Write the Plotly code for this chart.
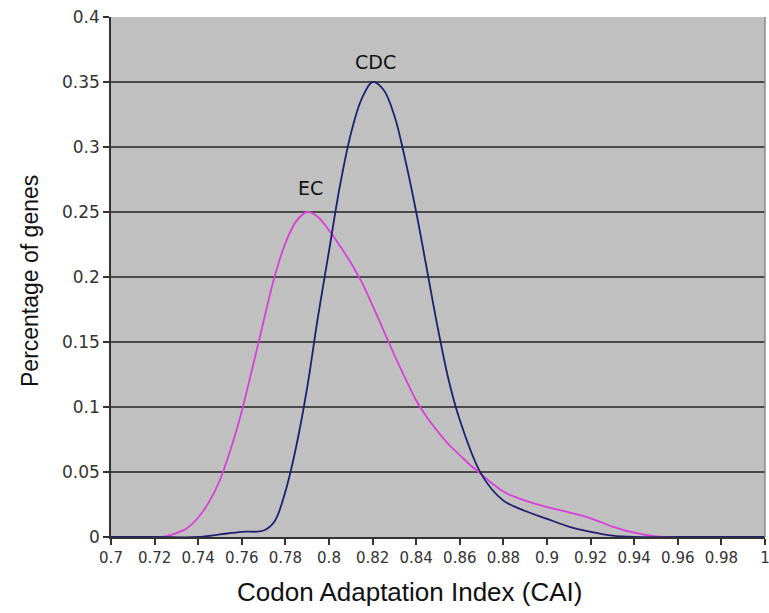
import plotly.graph_objects as go

cdc_x = [0.70, 0.72, 0.74, 0.75, 0.76, 0.77, 0.775, 0.78, 0.785, 0.79, 0.795, 0.80, 0.805, 0.81, 0.815,
         0.82, 0.825, 0.83, 0.835, 0.84, 0.845, 0.85, 0.855, 0.86, 0.87, 0.88, 0.89, 0.90, 0.91, 0.92,
         0.93, 0.94, 0.96, 0.98, 1.00]
cdc_y = [0, 0, 0, 0.002, 0.004, 0.005, 0.012, 0.035, 0.07, 0.115, 0.17, 0.22, 0.27, 0.31, 0.337,
         0.350, 0.344, 0.324, 0.29, 0.25, 0.205, 0.16, 0.12, 0.09, 0.048, 0.028, 0.02, 0.014, 0.008, 0.004,
         0.001, 0, 0, 0, 0]

ec_x = [0.70, 0.72, 0.725, 0.73, 0.735, 0.74, 0.745, 0.75, 0.755, 0.76, 0.765, 0.77, 0.775, 0.78, 0.785,
        0.79, 0.795, 0.80, 0.805, 0.81, 0.815, 0.82, 0.825, 0.83, 0.835, 0.84, 0.845, 0.85, 0.855, 0.86,
        0.865, 0.87, 0.875, 0.88, 0.885, 0.89, 0.90, 0.91, 0.92, 0.93, 0.94, 0.95, 0.96, 0.98, 1.00]
ec_y = [0, 0, 0.0005, 0.003, 0.007, 0.015, 0.027, 0.044, 0.068, 0.097, 0.131, 0.166, 0.2, 0.226, 0.243,
        0.25, 0.246, 0.236, 0.224, 0.211, 0.196, 0.178, 0.159, 0.14, 0.122, 0.105, 0.092, 0.081, 0.071, 0.063,
        0.055, 0.048, 0.041, 0.035, 0.031, 0.028, 0.023, 0.019, 0.0144, 0.008, 0.0033, 0.0005, 0, 0, 0]

x_ticks = [0.7, 0.72, 0.74, 0.76, 0.78, 0.8, 0.82, 0.84, 0.86, 0.88, 0.9, 0.92, 0.94, 0.96, 0.98, 1]
x_tick_text = ["0.7", "0.72", "0.74", "0.76", "0.78", "0.8", "0.82", "0.84", "0.86", "0.88", "0.9",
               "0.92", "0.94", "0.96", "0.98", "1"]
y_ticks = [0, 0.05, 0.1, 0.15, 0.2, 0.25, 0.3, 0.35, 0.4]
y_tick_text = ["0", "0.05", "0.1", "0.15", "0.2", "0.25", "0.3", "0.35", "0.4"]

labels = ["CDC", "EC"]
label_x = [0.8212, 0.7915]
label_y = [0.3655, 0.2685]

x_title = "Codon Adaptation Index (CAI)"
y_title = "Percentage of genes"

fig = go.Figure()
fig.add_trace(go.Scatter(x=ec_x, y=ec_y, mode="lines", line=dict(color="#d83fd8", width=1.8, shape="spline", smoothing=1.0),
                         name="EC", showlegend=False, hoverinfo="skip"))
fig.add_trace(go.Scatter(x=cdc_x, y=cdc_y, mode="lines", line=dict(color="#20206e", width=1.8, shape="spline", smoothing=1.0),
                         name="CDC", showlegend=False, hoverinfo="skip"))

for t, xx, yy in zip(labels, label_x, label_y):
    fig.add_annotation(x=xx, y=yy, text=t, showarrow=False,
                       font=dict(family="DejaVu Sans", size=19, color="#111111"))

# plot area: x 111..765, y 17..537 (654 x 520 px)
fig.add_annotation(xref="paper", yref="paper", x=(409 - 111) / 654, y=(537 - 592) / 520,
                   xanchor="center", yanchor="middle", text=x_title, showarrow=False,
                   font=dict(family="Liberation Sans", size=26, color="#111111"))
fig.add_annotation(xref="paper", yref="paper", x=(30 - 111) / 654, y=(537 - 281) / 520,
                   xanchor="center", yanchor="middle", text=y_title, showarrow=False, textangle=-90,
                   font=dict(family="Liberation Sans", size=23, color="#111111"))

fig.update_layout(
    width=780, height=613,
    margin=dict(l=111, r=15, t=17, b=76),
    paper_bgcolor="white",
    plot_bgcolor="#c0c0c0",
    xaxis=dict(range=[0.7, 1.0], tickmode="array", tickvals=x_ticks, ticktext=x_tick_text,
               automargin=False,
               showgrid=False, zeroline=False, showline=True, linecolor="#333333", linewidth=1.5,
               ticks="outside", ticklen=6, tickcolor="#333333", tickwidth=1.5,
               tickfont=dict(family="DejaVu Sans", size=15, color="#333333")),
    yaxis=dict(range=[0, 0.4], tickmode="array", tickvals=y_ticks, ticktext=y_tick_text,
               automargin=False,
               showgrid=True, gridcolor="#4a4a4a", gridwidth=1.8, zeroline=False,
               showline=True, linecolor="#333333", linewidth=1.5, mirror=False,
               ticks="outside", ticklen=6, tickcolor="#333333", tickwidth=1.5,
               tickfont=dict(family="DejaVu Sans", size=17, color="#333333")),
)

fig.add_shape(type="line", xref="paper", yref="paper", x0=1, x1=1, y0=0, y1=1,
              line=dict(color="#8a8a8a", width=1.5))

fig.write_html("out.html", config={"displayModeBar": False},
               post_script="document.body.style.margin='0';")
